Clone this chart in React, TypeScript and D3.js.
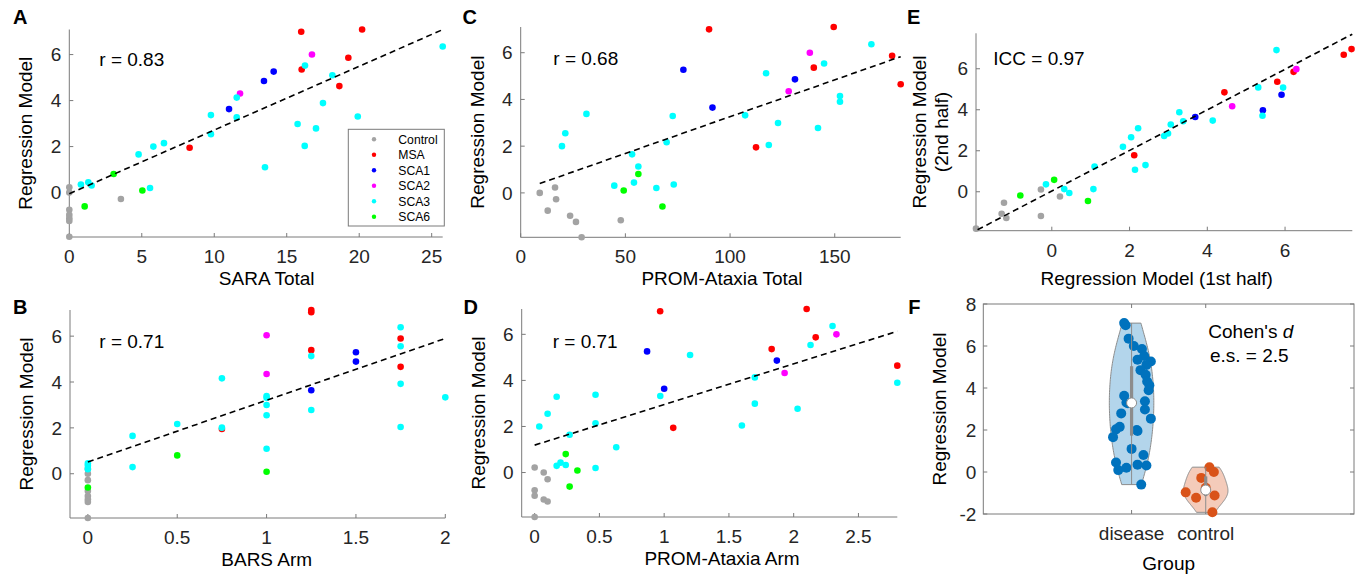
import React from 'react'
import * as d3 from 'd3'

const groupNames = ['Control', 'MSA', 'SCA1', 'SCA2', 'SCA3', 'SCA6']
const groupColors = ['#a3a3a3', '#ff0000', '#0000ff', '#ff00ff', '#00ffff', '#00ff00']

// [x, y, group]
const saraTotal = [
  [16, 6.99, 1], [20.2, 7.09, 1], [19.25, 5.86, 1], [16.03, 5.35, 1], [18.63, 4.63, 1], [8.3, 1.95, 1],
  [14.1, 5.26, 2], [13.43, 4.85, 2], [11.02, 3.63, 2],
  [16.74, 6.0, 3], [11.78, 4.31, 3],
  [25.76, 6.35, 4], [16.26, 5.52, 4], [18.15, 5.1, 4], [11.55, 4.13, 4], [17.5, 3.89, 4], [9.77, 3.37, 4],
  [19.9, 3.31, 4], [11.55, 3.27, 4], [15.75, 2.98, 4], [17.02, 2.79, 4], [9.77, 2.54, 4], [6.53, 2.15, 4],
  [5.8, 2.0, 4], [16.24, 2.03, 4], [4.78, 1.66, 4], [13.5, 1.1, 4], [1.31, 0.45, 4], [0.8, 0.35, 4],
  [1.54, 0.31, 4], [5.57, 0.2, 4],
  [3.06, 0.81, 5], [5.04, 0.09, 5], [1.06, -0.6, 5],
  [0, 0.23, 0], [0, 0, 0], [3.56, -0.28, 0], [0, -0.75, 0], [0, -0.97, 0], [0, -1.12, 0], [0, -1.23, 0], [0, -1.92, 0],
]

const promTotal = [
  [89.97, 7.0, 1], [149.5, 7.1, 1], [177.4, 5.87, 1], [140, 5.36, 1], [181.5, 4.65, 1], [112.4, 1.95, 1],
  [77.7, 5.27, 2], [131, 4.86, 2], [91.6, 3.65, 2],
  [138.1, 6.0, 3], [128, 4.35, 3],
  [167.5, 6.36, 4], [144.9, 5.54, 4], [117.2, 5.12, 4], [152.5, 4.15, 4], [152.5, 3.9, 4], [31.4, 3.38, 4],
  [72.6, 3.29, 4], [107.2, 3.32, 4], [122.9, 2.99, 4], [142, 2.78, 4], [21.3, 2.55, 4], [69.7, 2.17, 4],
  [118.5, 2.05, 4], [19.7, 2.0, 4], [53.2, 1.65, 4], [56.2, 1.13, 4], [54.1, 0.44, 4], [44.7, 0.31, 4],
  [73.1, 0.36, 4], [64.8, 0.21, 4],
  [56.2, 0.81, 5], [49.2, 0.1, 5], [67.7, -0.58, 5],
  [9.1, 0, 0], [16.4, 0.23, 0], [16.9, -0.27, 0], [12.9, -0.76, 0], [23.6, -0.98, 0], [26.4, -1.24, 0], [47.8, -1.17, 0], [29.1, -1.9, 0],
]

const barsArm = [
  [1.25, 7.14, 1], [1.25, 7.04, 1], [1.75, 5.9, 1], [1.25, 5.39, 1], [1.75, 4.66, 1], [0.75, 1.95, 1],
  [1.5, 5.3, 2], [1.5, 4.89, 2], [1.25, 3.64, 2],
  [1.0, 6.04, 3], [1.0, 4.35, 3],
  [1.75, 6.39, 4], [1.75, 5.56, 4], [1.25, 5.13, 4], [0.75, 4.16, 4], [1.75, 3.92, 4], [1.0, 3.39, 4],
  [1.0, 3.31, 4], [2.0, 3.33, 4], [1.0, 3.0, 4], [1.25, 2.78, 4], [1.0, 2.55, 4], [0.5, 2.17, 4],
  [0.75, 2.01, 4], [1.75, 2.04, 4], [0.25, 1.65, 4], [1.0, 1.09, 4], [0.25, 0.29, 4], [0, 0.45, 4],
  [0, 0.35, 4], [0, 0.2, 4],
  [0.5, 0.8, 5], [1.0, 0.09, 5], [0, -0.6, 5],
  [0, 0.22, 0], [0, 0, 0], [0, -0.28, 0], [0, -0.75, 0], [0, -0.97, 0], [0, -1.12, 0], [0, -1.23, 0], [0, -1.93, 0],
]

const promArm = [
  [0.969, 7.0, 1], [2.1, 7.1, 1], [2.17, 5.87, 1], [1.83, 5.36, 1], [2.8, 4.64, 1], [1.07, 1.94, 1],
  [0.868, 5.26, 2], [1.87, 4.86, 2], [1.0, 3.64, 2],
  [2.33, 6.0, 3], [1.93, 4.32, 3],
  [2.3, 6.36, 4], [2.13, 5.54, 4], [1.2, 5.1, 4], [1.7, 4.13, 4], [2.8, 3.9, 4], [0.17, 3.29, 4],
  [0.47, 3.38, 4], [0.97, 3.32, 4], [1.7, 2.99, 4], [2.03, 2.77, 4], [0.1, 2.55, 4], [0.47, 2.14, 4],
  [1.6, 2.04, 4], [0.036, 2.0, 4], [0.27, 1.64, 4], [0.63, 1.1, 4], [0.2, 0.43, 4], [0.17, 0.29, 4],
  [0.24, 0.33, 4], [0.47, 0.2, 4],
  [0.24, 0.8, 5], [0.33, 0.09, 5], [0.27, -0.61, 5],
  [0, 0.22, 0], [0.07, 0, 0], [0.1, -0.29, 0], [0, -0.77, 0], [0, -1.01, 0], [0.07, -1.17, 0], [0.1, -1.26, 0], [0, -1.93, 0],
]

const splitHalves = [
  [7.71, 6.96, 1], [7.51, 6.68, 1], [6.22, 5.85, 1], [5.8, 5.37, 1], [4.44, 4.85, 1], [2.12, 1.78, 1],
  [5.91, 4.73, 2], [5.43, 3.97, 2], [3.69, 3.65, 2],
  [6.29, 5.98, 3], [4.64, 4.17, 3],
  [5.78, 6.91, 4], [5.31, 5.09, 4], [5.95, 5.08, 4], [3.28, 3.88, 4], [5.42, 3.71, 4], [4.14, 3.47, 4],
  [3.38, 3.44, 4], [2.22, 3.1, 4], [3.06, 3.28, 4], [2.99, 2.84, 4], [2.89, 2.72, 4], [2.04, 2.66, 4],
  [1.83, 2.19, 4], [2.41, 1.3, 4], [2.14, 1.07, 4], [1.1, 1.23, 4], [1.07, 0.13, 4], [-0.15, 0.36, 4],
  [0.32, 0.13, 4], [0.45, -0.06, 4],
  [0.06, 0.58, 5], [-0.81, -0.18, 5], [0.93, -0.45, 5],
  [-0.28, 0.11, 0], [0.21, -0.23, 0], [-1.23, -0.54, 0], [-1.29, -1.07, 0], [-1.17, -1.28, 0], [-0.28, -1.18, 0], [-1.95, -1.8, 0],
]

// regression lines: [intercept, slope, xFrom, xTo]
const fitSara = [-0.05, 0.277, 0, 25.76]
const fitPromTotal = [0.113, 0.0315, 9.1, 181.5]
const fitBars = [0.51, 2.695, 0, 2]
const fitPromArm = [1.19, 1.764, 0, 2.8]
const fitHalves = [0.035, 0.99, -1.91, 7.73]

// panel F: [value, jitter]
const diseaseScores = [
  [7.09, -0.1], [6.99, -0.08], [6.35, -0.04], [6.0, 0.03], [5.86, 0.14], [5.52, 0.17], [5.35, 0.08],
  [5.26, 0.26], [5.1, 0.2], [4.85, 0.12], [4.63, 0.19], [4.31, 0.21], [4.13, 0.24], [3.89, 0.23],
  [3.63, -0.1], [3.37, 0.18], [3.31, -0.07], [3.27, -0.05], [2.98, 0.18], [2.79, -0.14], [2.54, 0.26],
  [2.15, -0.16], [2.03, -0.21], [2.0, 0.07], [1.95, 0.08], [1.66, -0.25], [1.1, 0.0], [0.81, 0.16],
  [0.45, -0.21], [0.35, 0.08], [0.31, 0.2], [0.2, -0.07], [0.09, -0.18], [-0.6, 0.13],
]
const controlScores = [
  [0.23, 0.05], [0.0, 0.11], [-0.28, -0.06], [-0.75, 0.0], [-0.97, -0.27], [-1.12, 0.12], [-1.23, -0.13], [-1.92, 0.09],
]
const violinGroups = ['disease', 'control']
const violinColors = ['#0072bd', '#d95319']
const violinFills = ['#b3d5eb', '#f4cbba']

const FONT = '"Liberation Sans", Arial, Helvetica, sans-serif'
const AXIS = '#7a7a7a'
const TICKTXT = '#262626'

const panels = [
  { letter: 'A', letterX: 13, data: saraTotal, fit: fitSara, box: { l: 69.3, t: 29.5, r: 442.7, b: 237 },
    xDom: [0, 25.76], yDom: [-1.93, 7.09], xTicks: [0, 5, 10, 15, 20, 25], yTicks: [0, 2, 4, 6],
    xLabel: 'SARA Total', xLabelX: 266.7, yLabel: ['Regression Model'], note: 'r = 0.83', noteDx: 30, noteDy: 36, legend: true },
  { letter: 'C', letterX: 462.5, data: promTotal, fit: fitPromTotal, box: { l: 520.7, t: 27, r: 900.7, b: 237.3 },
    xDom: [0, 181.5], yDom: [-1.9, 7.1], xTicks: [0, 50, 100, 150], yTicks: [0, 2, 4, 6],
    xLabel: 'PROM-Ataxia Total', xLabelX: 722, yLabel: ['Regression Model'], note: 'r = 0.68', noteDx: 32.6, noteDy: 38 },
  { letter: 'E', letterX: 907, data: splitHalves, fit: fitHalves, box: { l: 976, t: 33.3, r: 1352.3, b: 230.7 },
    xDom: [-1.95, 7.73], yDom: [-1.9, 7.73], xTicks: [0, 2, 4, 6], yTicks: [0, 2, 4, 6],
    xLabel: 'Regression Model (1st half)', xLabelX: 1156.7, xLabelY: 285, yLabel: ['Regression Model', '(2nd half)'], note: 'ICC = 0.97', noteDx: 17.3, noteDy: 31.7 },
  { letter: 'B', letterX: 13, data: barsArm, fit: fitBars, box: { l: 70, t: 310, r: 445.3, b: 518 },
    xDom: [-0.1, 2.0], yDom: [-1.93, 7.14], xTicks: [0, 0.5, 1, 1.5, 2], yTicks: [0, 2, 4, 6],
    xLabel: 'BARS Arm', xLabelX: 266.7, yLabel: ['Regression Model'], note: 'r = 0.71', noteDx: 29.3, noteDy: 38.3 },
  { letter: 'D', letterX: 463.5, data: promArm, fit: fitPromArm, box: { l: 521.7, t: 309, r: 897.3, b: 517 },
    xDom: [-0.1, 2.8], yDom: [-1.93, 7.1], xTicks: [0, 0.5, 1, 1.5, 2, 2.5], yTicks: [0, 2, 4, 6],
    xLabel: 'PROM-Ataxia Arm', xLabelX: 722, yLabel: ['Regression Model'], note: 'r = 0.71', noteDx: 31, noteDy: 39 },
]

function ScatterPanel({ p }: { p: any }) {
  const { l, t, r, b } = p.box
  const x = d3.scaleLinear().domain(p.xDom).range([l, r])
  const y = d3.scaleLinear().domain(p.yDom).range([b, t])
  const pts = [...p.data].sort((a, c) => a[2] - c[2])
  const [b0, b1, xf, xt] = p.fit
  const line = d3.line<number>().x(v => x(v)).y(v => y(b0 + b1 * v))
  const yMid = (t + b) / 2
  const ly = p.yLabel.length === 1 ? [l - 37] : [l - 50, l - 28]
  return (
    <g fontFamily={FONT}>
      <text x={p.letterX} y={t < 100 ? 24 : 314} fontSize={20} fontWeight="bold" fill="#000">{p.letter}</text>
      <line x1={l} x2={r} y1={b} y2={b} stroke={AXIS} />
      <line x1={l} x2={l} y1={t} y2={b} stroke={AXIS} />
      {p.xTicks.map((v: number) => (
        <g key={'x' + v}>
          <line x1={x(v)} x2={x(v)} y1={b} y2={b - 4} stroke={AXIS} />
          <text x={x(v)} y={b + 26} textAnchor="middle" fontSize={19} fill={TICKTXT}>{v}</text>
        </g>
      ))}
      {p.yTicks.map((v: number) => (
        <g key={'y' + v}>
          <line x1={l} x2={l + 4} y1={y(v)} y2={y(v)} stroke={AXIS} />
          <text x={l - 8} y={y(v)} dy="0.35em" textAnchor="end" fontSize={19} fill={TICKTXT}>{v}</text>
        </g>
      ))}
      <text x={p.xLabelX} y={p.xLabelY ?? b + 48} textAnchor="middle" fontSize={19} fill="#000">{p.xLabel}</text>
      {p.yLabel.map((s: string, i: number) => (
        <text key={s} transform={`translate(${ly[i]},${yMid}) rotate(-90)`} textAnchor="middle" fontSize={19} fill="#000">{s}</text>
      ))}
      {pts.map((d, i) => (
        <circle key={i} cx={x(d[0])} cy={y(d[1])} r={3.3} fill={groupColors[d[2]]} />
      ))}
      <path d={line([xf, xt]) || ''} stroke="#000" strokeWidth={1.6} strokeDasharray="6,4" fill="none" />
      <text x={l + p.noteDx} y={t + p.noteDy} fontSize={19} fill="#000">{p.note}</text>
      {p.legend && (
        <g>
          <rect x={348.3} y={129.3} width={96} height={96.7} fill="#fff" stroke={AXIS} />
          {groupNames.map((g, i) => (
            <g key={g}>
              <circle cx={374} cy={139.3 + i * 15.5} r={2.2} fill={groupColors[i]} />
              <text x={398.3} y={139.3 + i * 15.5} dy="0.35em" fontSize={12.2} fill="#000">{g}</text>
            </g>
          ))}
        </g>
      )}
    </g>
  )
}

function ViolinPanel() {
  const box = { l: 983.3, t: 304, r: 1354, b: 514 }
  const x = d3.scaleLinear().domain([-1, 4]).range([box.l, box.r])
  const y = d3.scaleLinear().domain([-2, 8]).range([box.b, box.t])
  const sets = [diseaseScores, controlScores]
  const yTicks = [-2, 0, 2, 4, 6, 8]
  const violins = sets.map((set, gi) => {
    const vals = set.map(d => d[0])
    const center = gi + 1
    const n = vals.length
    // ksdensity-style bandwidth (MAD based)
    const med = d3.median(vals) as number
    const mad = d3.median(vals, v => Math.abs(v - med)) as number
    const bw = (mad / 0.6745) * Math.pow(4 / (3 * n), 0.2)
    const lo = d3.min(vals) as number
    const hi = d3.max(vals) as number
    const grid = d3.range(0, 101).map(i => lo + ((hi - lo) * i) / 100)
    const dens = grid.map(g => d3.mean(vals, v => Math.exp(-0.5 * ((g - v) / bw) ** 2)) as number)
    const maxD = d3.max(dens) as number
    const pts = grid.map((g, i) => ({ g, w: (dens[i] / maxD) * 0.3 }))
    const area = d3.area<any>().y(d => y(d.g)).x0(d => x(center - d.w)).x1(d => x(center + d.w))
    const sorted = [...vals].sort(d3.ascending)
    return {
      center, set, path: area(pts) + 'Z', lo, hi,
      q1: d3.quantile(sorted, 0.25) as number, q3: d3.quantile(sorted, 0.75) as number,
      med: d3.median(sorted) as number,
    }
  })
  return (
    <g fontFamily={FONT}>
      <text x={908.3} y={314} fontSize={20} fontWeight="bold" fill="#000">F</text>
      <rect x={box.l} y={box.t} width={box.r - box.l} height={box.b - box.t} fill="none" stroke={AXIS} />
      {yTicks.map(v => (
        <g key={v}>
          <line x1={box.l} x2={box.l + 4} y1={y(v)} y2={y(v)} stroke={AXIS} />
          <line x1={box.r} x2={box.r - 4} y1={y(v)} y2={y(v)} stroke={AXIS} />
          <text x={box.l - 7} y={y(v)} dy="0.35em" textAnchor="end" fontSize={19} fill={TICKTXT}>{v}</text>
        </g>
      ))}
      {violinGroups.map((g, i) => (
        <g key={g}>
          <line x1={x(i + 1)} x2={x(i + 1)} y1={box.b} y2={box.b - 4} stroke={AXIS} />
          <line x1={x(i + 1)} x2={x(i + 1)} y1={box.t} y2={box.t + 4} stroke={AXIS} />
          <text x={x(i + 1)} y={box.b + 26} textAnchor="middle" fontSize={19} fill={TICKTXT}>{g}</text>
        </g>
      ))}
      <text x={(box.l + box.r) / 2} y={box.b + 56} textAnchor="middle" fontSize={19} fill="#000">Group</text>
      <text transform={`translate(${box.l - 37},${(box.t + box.b) / 2}) rotate(-90)`} textAnchor="middle" fontSize={19} fill="#000">Regression Model</text>
      {violins.map((v, i) => (
        <g key={i}>
          <path d={v.path} fill={violinFills[i]} stroke="#8c8c8c" strokeWidth={1} />
          {v.set.map((d, j) => (
            <circle key={j} cx={x(v.center + d[1])} cy={y(d[0])} r={5} fill={violinColors[i]} />
          ))}
          <line x1={x(v.center)} x2={x(v.center)} y1={y(v.lo)} y2={y(v.hi)} stroke="#8c8c8c" strokeWidth={1} />
          <rect x={x(v.center) - 1.6} y={y(v.q3)} width={3.2} height={y(v.q1) - y(v.q3)} fill="#8c8c8c" />
          <circle cx={x(v.center)} cy={y(v.med)} r={5} fill="#fff" stroke="#8c8c8c" strokeWidth={1} />
        </g>
      ))}
      <text x={1250.8} y={338} textAnchor="middle" fontSize={19} fill="#000">
        Cohen's <tspan fontStyle="italic">d</tspan>
      </text>
      <text x={1249.3} y={361.7} textAnchor="middle" fontSize={19} fill="#000">e.s. = 2.5</text>
    </g>
  )
}

export default function App() {
  return (
    <div style={{ position: 'absolute', left: 0, top: 0 }}>
      <svg width={1364} height={577} style={{ display: 'block', background: '#fff' }}>
        {panels.map(p => <ScatterPanel key={p.letter} p={p} />)}
        <ViolinPanel />
      </svg>
    </div>
  )
}
